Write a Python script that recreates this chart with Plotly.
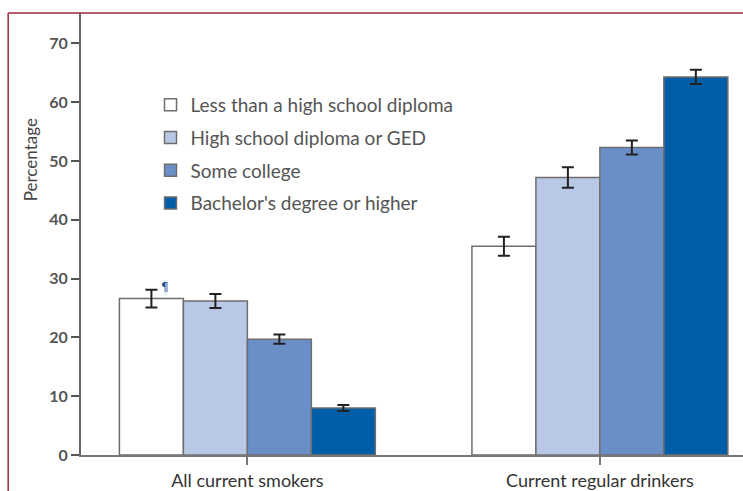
import plotly.graph_objects as go

categories = ["All current smokers", "Current regular drinkers"]
groups = [
    "Less than a high school diploma",
    "High school diploma or GED",
    "Some college",
    "Bachelor's degree or higher",
]
values = [
    [26.6, 35.5],
    [26.2, 47.2],
    [19.7, 52.3],
    [8.0, 64.3],
]
errors = [
    [1.5, 1.6],
    [1.2, 1.75],
    [0.8, 1.2],
    [0.5, 1.2],
]
colors = ["#ffffff", "#b8c8e6", "#6a8fc8", "#005ea8"]
y_ticks = [0, 10, 20, 30, 40, 50, 60, 70]

FONT = "Lato"

fig = go.Figure()
for i, name in enumerate(groups):
    fig.add_trace(go.Bar(
        x=[0, 1],
        y=values[i],
        name=name,
        legendgroup=name,
        marker=dict(color=colors[i], line=dict(color="#6e6e6e", width=1.5)),
        error_y=dict(type="data", array=errors[i], color="#222222",
                     thickness=2, width=6),
    ))

# Footnote marker beside the first bar
fig.add_annotation(x=0, y=values[0][0] + errors[0][0], xref="x", yref="y",
                   text="¶", showarrow=False, xshift=-82, yshift=3,
                   font=dict(size=12, color="#2a4f8f", family="DejaVu Sans"))

# Y-axis title placed toward the upper part of the axis
fig.add_annotation(x=-0.077, y=0.667, xref="paper", yref="paper",
                   xanchor="center", yanchor="middle",
                   text="Percentage", textangle=-90, showarrow=False,
                   font=dict(size=17, color="#444444", family=FONT))

# Frame lines along the top and left of the page
fig.add_shape(type="line", xref="paper", yref="paper",
              x0=-0.11, x1=1.0, y0=1.0, y1=1.0,
              line=dict(color="#9b2a3c", width=1.5))
fig.add_shape(type="line", xref="paper", yref="paper",
              x0=-0.11, x1=-0.11, y0=1.0, y1=-0.09,
              line=dict(color="#9b2a3c", width=1.5))

fig.update_layout(
    width=743, height=491,
    margin=dict(l=81, r=0, t=13, b=36),
    paper_bgcolor="white", plot_bgcolor="white",
    barmode="group", bargap=0.274, bargroupgap=0,
    font=dict(family=FONT, color="#444444"),
    legend=dict(x=0.105, y=0.835, xanchor="left", yanchor="top",
                font=dict(size=19, color="#555555", family=FONT),
                tracegroupgap=5, bgcolor="rgba(0,0,0,0)",
                itemclick=False),
    xaxis=dict(
        tickmode="array", tickvals=[0, 1], ticktext=categories,
        range=[-0.472, 1.406], showgrid=False, zeroline=False,
        showline=True, linecolor="#777777", linewidth=2,
        ticks="outside", ticklen=8, tickwidth=2, tickcolor="#777777",
        tickfont=dict(size=18, color="#333333", family=FONT),
    ),
    yaxis=dict(
        range=[0, 75.17], tickvals=y_ticks, showgrid=False, zeroline=False,
        showline=True, linecolor="#666666", linewidth=2,
        ticks="outside", ticklen=8, tickwidth=2, tickcolor="#555555",
        tickfont=dict(size=16, color="#555555", family=FONT, weight="bold"),
    ),
)

fig.write_html("out.html")
